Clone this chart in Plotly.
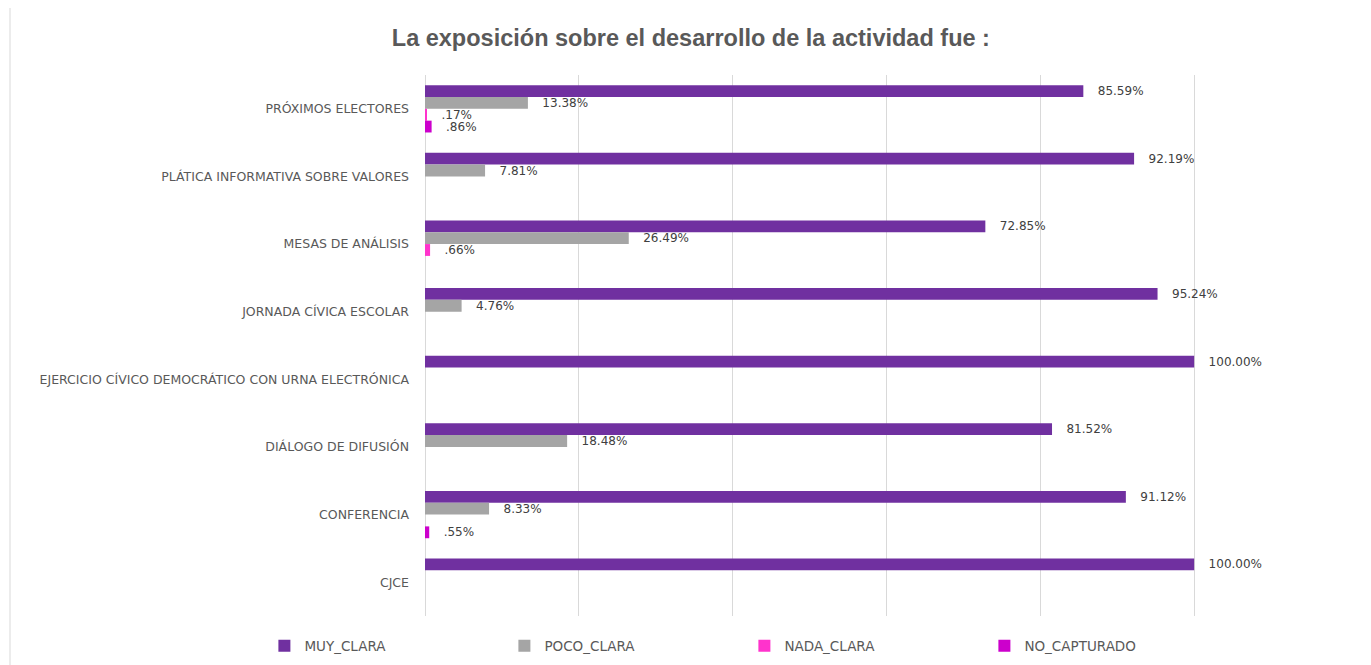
import plotly.graph_objects as go

categories = [
    "PRÓXIMOS ELECTORES",
    "PLÁTICA INFORMATIVA SOBRE VALORES",
    "MESAS DE ANÁLISIS",
    "JORNADA CÍVICA ESCOLAR",
    "EJERCICIO CÍVICO DEMOCRÁTICO CON URNA ELECTRÓNICA",
    "DIÁLOGO DE DIFUSIÓN",
    "CONFERENCIA",
    "CJCE",
]
muy_clara = [85.59, 92.19, 72.85, 95.24, 100.00, 81.52, 91.12, 100.00]
poco_clara = [13.38, 7.81, 26.49, 4.76, None, 18.48, 8.33, None]
nada_clara = [0.17, None, 0.66, None, None, None, None, None]
no_capturado = [0.86, None, None, None, None, None, 0.55, None]

series = [
    ("MUY_CLARA", muy_clara, "#7030A0"),
    ("POCO_CLARA", poco_clara, "#A5A5A5"),
    ("NADA_CLARA", nada_clara, "#FF33CC"),
    ("NO_CAPTURADO", no_capturado, "#CC00CC"),
]


def fmt(v):
    if v is None:
        return ""
    s = f"{v:.2f}%"
    if s.startswith("0"):
        s = s[1:]
    return "\u00a0\u00a0\u00a0" + s


FONT = "DejaVu Sans"
fig = go.Figure()
for name, vals, color in series:
    fig.add_trace(go.Bar(
        name=name,
        y=categories,
        x=vals,
        orientation="h",
        marker=dict(color=color, line=dict(width=0)),
        text=[fmt(v) for v in vals],
        textposition="outside",
        constraintext="none",
        cliponaxis=False,
        textfont=dict(family=FONT, size=12, color="#404040"),
        hoverinfo="x+y+name",
    ))

W, H = 1363, 657
fig.update_layout(
    width=W,
    height=H,
    barmode="group",
    bargap=0.3,
    bargroupgap=0,
    paper_bgcolor="white",
    plot_bgcolor="white",
    margin=dict(l=417, r=23, t=67, b=49, autoexpand=False),
    title=dict(
        text="La exposición sobre el desarrollo de la actividad fue :",
        x=0.501, xanchor="center", y=0.954, yanchor="middle",
        font=dict(family="Liberation Sans", size=23.5, color="#595959", weight="bold"),
    ),
    xaxis=dict(
        range=[0, 120], dtick=20, showticklabels=False,
        showgrid=True, gridcolor="#D9D9D9", gridwidth=1,
        zeroline=True, zerolinecolor="#D9D9D9", zerolinewidth=1,
        showline=False, fixedrange=True,
    ),
    yaxis=dict(
        autorange="reversed",
        tickfont=dict(family=FONT, size=12.5, color="#595959"),
        showgrid=False, showline=False, ticks="",
        ticklabelstandoff=15,
    ),
    legend=dict(
        orientation="h",
        x=-0.174, xanchor="left",
        y=-0.0555, yanchor="middle",
        font=dict(family=FONT, size=13.5, color="#595959"),
        entrywidth=195, entrywidthmode="pixels",
        traceorder="normal",
    ),
    showlegend=True,
    shapes=[
        dict(type="line", xref="paper", yref="paper",
             xsizemode="pixel", xanchor=0, x0=-415, x1=-415,
             ysizemode="pixel", yanchor=1, y0=70, y1=-590,
             line=dict(color="#D9D9D9", width=1)),
        dict(type="line", xref="paper", yref="paper",
             xsizemode="pixel", xanchor=1, x0=20, x1=20,
             ysizemode="pixel", yanchor=1, y0=70, y1=-590,
             line=dict(color="#D9D9D9", width=1)),
    ],
)

fig.write_html("out.html")
